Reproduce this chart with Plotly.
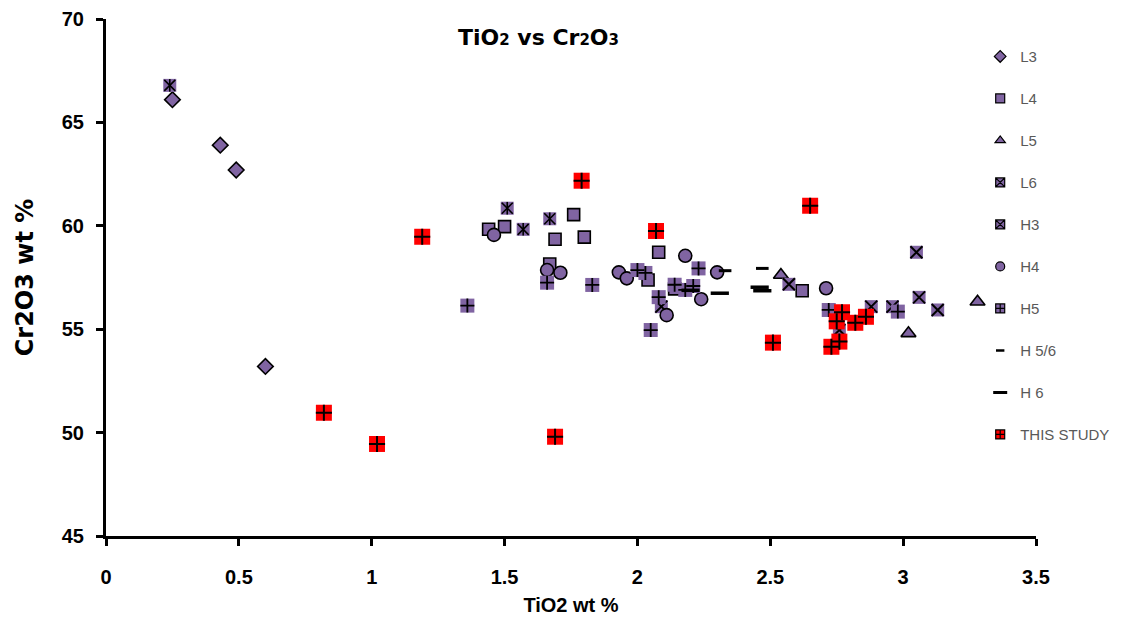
import plotly.graph_objects as go

PURPLE = "#8064A2"
RED = "#FF0000"

# ---- data (TiO2 wt %, Cr2O3 wt %) ----
L3_x = [0.25, 0.43, 0.49, 0.60]
L3_y = [66.1, 63.9, 62.7, 53.2]

L4_x = [1.44, 1.50, 1.76, 1.69, 1.80, 1.67, 2.04, 2.08, 2.14, 2.62]
L4_y = [59.83, 59.96, 60.54, 59.35, 59.45, 58.15, 57.38, 58.72, 56.95, 56.86]

L5_x = [2.54, 3.02, 3.28]
L5_y = [57.62, 54.80, 56.33]

L6_x = [3.05, 3.06, 3.13, 2.88, 2.96, 2.57, 2.76, 2.09]
L6_y = [58.72, 56.54, 55.93, 56.09, 56.09, 57.17, 54.96, 56.09]

H3_x = [0.24, 1.51, 1.57, 1.67]
H3_y = [66.79, 60.85, 59.83, 60.34]

H4_x = [1.46, 1.66, 1.71, 1.93, 1.96, 2.18, 2.30, 2.24, 2.11, 2.71]
H4_y = [59.56, 57.86, 57.73, 57.75, 57.46, 58.55, 57.75, 56.45, 55.68, 56.98]

H5_x = [1.36, 1.66, 1.83, 2.00, 2.03, 2.23, 2.14, 2.18, 2.21, 2.08, 2.05, 2.72, 2.98]
H5_y = [56.14, 57.25, 57.14, 57.86, 57.72, 57.94, 57.15, 56.90, 57.09, 56.55, 54.96, 55.93, 55.85]

H56_x = [2.33, 2.47]
H56_y = [57.83, 57.94]

H6_x = [2.46, 2.47, 2.31, 2.20]
H6_y = [57.03, 56.86, 56.74, 56.88]

TS_x = [0.82, 1.02, 1.19, 1.69, 1.79, 2.07, 2.65, 2.51, 2.77, 2.75, 2.82, 2.86, 2.76, 2.73]
TS_y = [50.96, 49.45, 59.47, 49.80, 62.18, 59.75, 60.97, 54.35, 55.82, 55.38, 55.31, 55.60, 54.40, 54.15]

fig = go.Figure()

SANS = "Liberation Sans, Arial, sans-serif"
LEG_SIZE = 9


def legend_entry(name, symbol, fill, size=LEG_SIZE, lw=1.2):
    # empty trace: only draws the legend key
    fig.add_trace(go.Scatter(
        x=[None], y=[None], mode="markers", name=name, legendgroup=name,
        showlegend=True, hoverinfo="skip",
        marker=dict(symbol=symbol, size=size, color=fill,
                    line=dict(color="black", width=lw))))


def simple(name, x, y, symbol, size, fill, lw=1.6):
    fig.add_trace(go.Scatter(
        x=x, y=y, mode="markers", name=name, legendgroup=name, showlegend=False,
        marker=dict(symbol=symbol, size=size, color=fill,
                    line=dict(color="black", width=lw))))


def square_with(name, x, y, size, fill, overlays):
    fig.add_trace(go.Scatter(
        x=x, y=y, mode="markers", name=name, legendgroup=name, showlegend=False,
        marker=dict(symbol="square", size=size, color=fill, line=dict(width=0))))
    for osym, osize, olw in overlays:
        fig.add_trace(go.Scatter(
            x=x, y=y, mode="markers", name=name, legendgroup=name,
            showlegend=False, hoverinfo="skip",
            marker=dict(symbol=osym, size=osize, color="black",
                        line=dict(color="black", width=olw))))


legend_entry("L3", "diamond", PURPLE)
simple("L3", L3_x, L3_y, "diamond", 12, PURPLE)

legend_entry("L4", "square", PURPLE)
simple("L4", L4_x, L4_y, "square", 12, PURPLE)

legend_entry("L5", "triangle-up", PURPLE)
simple("L5", L5_x, L5_y, "triangle-up", 13, PURPLE)

legend_entry("L6", "square-x", PURPLE)
square_with("L6", L6_x, L6_y, 13, PURPLE, [("x-thin-open", 12, 2)])

legend_entry("H3", "square-x", PURPLE)
square_with("H3", H3_x, H3_y, 13, PURPLE,
            [("x-thin-open", 11, 1.6), ("line-ns-open", 9, 1.6)])

legend_entry("H4", "circle", PURPLE)
simple("H4", H4_x, H4_y, "circle", 13, PURPLE)

legend_entry("H5", "square-cross", PURPLE)
square_with("H5", H5_x, H5_y, 14, PURPLE, [("cross-thin-open", 10, 1.8)])

legend_entry("H 5/6", "line-ew", "black", size=6, lw=2.5)
simple("H 5/6", H56_x, H56_y, "line-ew", 9, "black", lw=3)

legend_entry("H 6", "line-ew", "black", size=10, lw=3)
simple("H 6", H6_x, H6_y, "line-ew", 13, "black", lw=3.5)

legend_entry("THIS STUDY", "square-cross", RED)
square_with("THIS STUDY", TS_x, TS_y, 16, RED, [("cross-thin-open", 11.5, 2)])

W, H = 1118, 616  # the page body adds an 8px margin

fig.update_layout(
    width=W, height=H,
    paper_bgcolor="white", plot_bgcolor="white",
    margin=dict(l=98, r=90, t=11, b=88, autoexpand=False),
    font=dict(family=SANS, color="black"),
    title=dict(
        text="<b>TiO<span style='font-size:15px'>2</span> vs Cr<span style='font-size:15px'>2</span>O<span style='font-size:15px'>3</span></b>",
        x=0.465, xref="paper", xanchor="center",
        y=1 - 29 / H, yref="container", yanchor="middle",
        font=dict(size=22, family="DejaVu Sans, Liberation Sans, sans-serif", color="black")),
    showlegend=True,
    legend=dict(
        x=0.94, xanchor="left", y=0.959, yanchor="top",
        bgcolor="rgba(255,255,255,0)",
        font=dict(size=15, color="#595959", family=SANS),
        tracegroupgap=19.5, itemwidth=30, itemsizing="trace",
    ),
)

fig.update_xaxes(
    range=[0, 3.5], dtick=0.5, tick0=0, automargin=False,
    showgrid=False, zeroline=False,
    showline=True, linecolor="black", linewidth=3,
    ticks="outside", ticklen=7, tickwidth=3, tickcolor="black",
    ticklabelstandoff=14,
    tickfont=dict(size=20, family="Liberation Sans Narrow, Arial Narrow, Liberation Sans", color="black", weight="bold"),
    title=dict(text="<b>TiO2 wt %</b>", standoff=11,
               font=dict(size=20, family="Liberation Sans Narrow, Arial Narrow, Liberation Sans", color="black")),
)
fig.update_yaxes(
    range=[45, 70], dtick=5, tick0=45, automargin=False,
    showgrid=False, zeroline=False,
    showline=True, linecolor="black", linewidth=3,
    ticks="outside", ticklen=7, tickwidth=3, tickcolor="black",
    ticklabelstandoff=8,
    tickfont=dict(size=20, family=SANS, color="black", weight="bold"),
    title=dict(text="<b>Cr2O3 wt %</b>", standoff=22,
               font=dict(size=24, family="DejaVu Sans, Liberation Sans, sans-serif", color="black")),
)

fig.write_html("out.html")
